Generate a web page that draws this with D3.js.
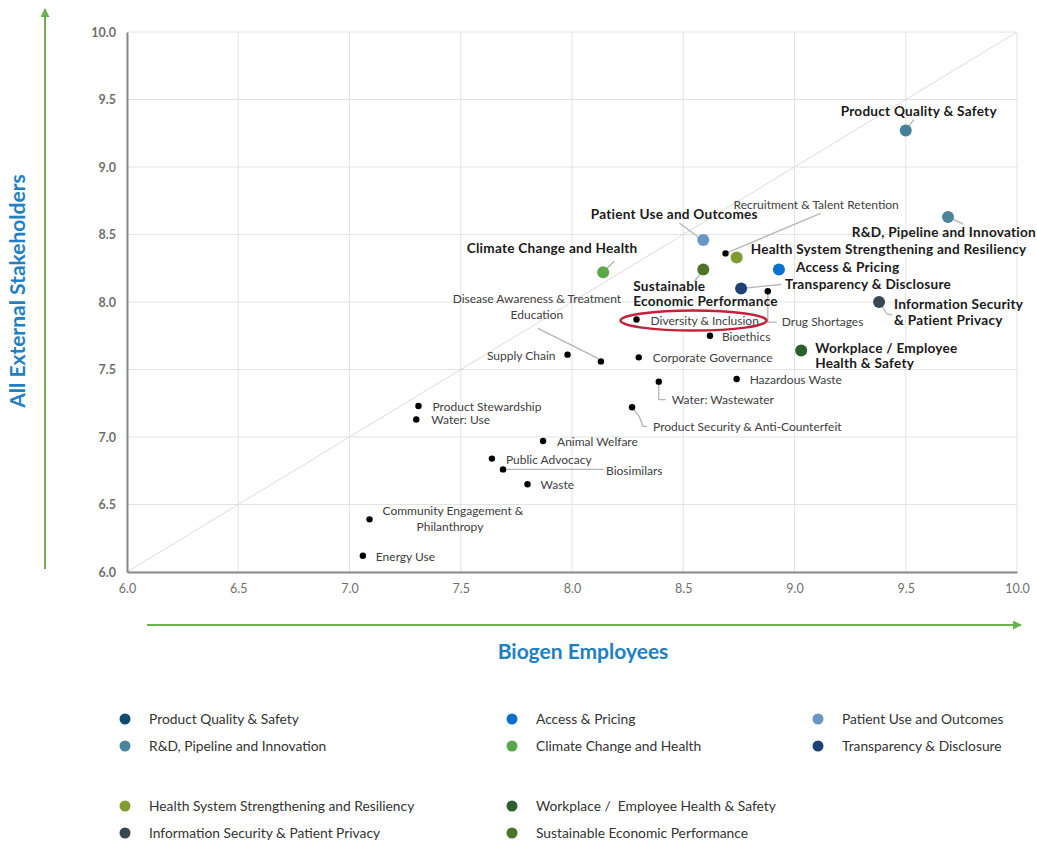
<!DOCTYPE html>
<html>
<head>
<meta charset="utf-8">
<script src="https://cdn.jsdelivr.net/npm/d3@7"></script>
<style>
  body { margin: 0; background: #fff; }
  svg { display: block; font-family: Lato, "Open Sans", sans-serif; }
</style>
</head>
<body>
<div id="chart"></div>
<script>
// Priority topics (big coloured dots)
const topicNames = [
  "Product Quality & Safety", "R&D, Pipeline and Innovation", "Patient Use and Outcomes",
  "Climate Change and Health", "Sustainable Economic Performance", "Health System Strengthening and Resiliency",
  "Access & Pricing", "Transparency & Disclosure", "Information Security & Patient Privacy",
  "Workplace / Employee Health & Safety"
];
const topicEmployees =    [9.50, 9.69, 8.59, 8.14, 8.59, 8.74, 8.93, 8.76, 9.38, 9.03];
const topicStakeholders = [9.27, 8.63, 8.46, 8.22, 8.24, 8.33, 8.24, 8.10, 8.00, 7.64];
const topicColors = ["#44809a", "#4a859c", "#6b95c2", "#5ba84a", "#4f7328", "#7f9c2e",
  "#0a70cc", "#1d4175", "#3a4650", "#2b5f2f"];

// Other topics (small black dots)
const otherNames = [
  "Recruitment & Talent Retention", "Drug Shortages", "Diversity & Inclusion", "Bioethics",
  "Supply Chain", "Disease Awareness & Treatment Education", "Corporate Governance",
  "Hazardous Waste", "Water: Wastewater", "Product Security & Anti-Counterfeit",
  "Product Stewardship", "Water: Use", "Animal Welfare", "Public Advocacy", "Biosimilars",
  "Waste", "Community Engagement & Philanthropy", "Energy Use"
];
const otherEmployees =    [8.69, 8.88, 8.29, 8.62, 7.98, 8.13, 8.30, 8.74, 8.39, 8.27,
  7.31, 7.30, 7.87, 7.64, 7.69, 7.80, 7.09, 7.06];
const otherStakeholders = [8.36, 8.08, 7.87, 7.75, 7.61, 7.56, 7.59, 7.43, 7.41, 7.22,
  7.23, 7.13, 6.97, 6.84, 6.76, 6.65, 6.39, 6.12];

// Legend
const legendNames = [
  "Product Quality & Safety", "R&D, Pipeline and Innovation", "Access & Pricing",
  "Climate Change and Health", "Patient Use and Outcomes", "Transparency & Disclosure",
  "Health System Strengthening and Resiliency", "Information Security & Patient Privacy",
  "Workplace /  Employee Health & Safety", "Sustainable Economic Performance"
];
const legendColors = ["#0f4d6f", "#4a859c", "#0a70cc", "#5ba84a", "#6b95c2", "#1d4175",
  "#7f9c2e", "#3a4650", "#2b5f2f", "#4f7328"];

const tickValues = [6.0, 6.5, 7.0, 7.5, 8.0, 8.5, 9.0, 9.5, 10.0];

// label layout: text lines, offset from dot, anchor, optional leader polyline (offsets)
const labelLayout = {
  "Product Quality & Safety": {lines: ["Product Quality & Safety"], dx: 13, dy: -15, anchor: "middle", leader: [[0,0],[8,-11]]},
  "R&D, Pipeline and Innovation": {lines: ["R&D, Pipeline and Innovation"], dx: 88, dy: 20, anchor: "end", leader: [[0,0],[15,7]]},
  "Patient Use and Outcomes": {lines: ["Patient Use and Outcomes"], dx: -29, dy: -21, anchor: "middle", leader: [[-5,-3],[-24,-17]]},
  "Climate Change and Health": {lines: ["Climate Change and Health"], dx: -51, dy: -19, anchor: "middle", leader: [[0,0],[11,-11]]},
  "Sustainable Economic Performance": {lines: ["Sustainable", "Economic Performance"], dx: -70, dy: 21, anchor: "start", leader: [[0,0],[-9,12]]},
  "Health System Strengthening and Resiliency": {lines: ["Health System Strengthening and Resiliency"], dx: 14, dy: -3, anchor: "start"},
  "Access & Pricing": {lines: ["Access & Pricing"], dx: 17, dy: 2, anchor: "start"},
  "Transparency & Disclosure": {lines: ["Transparency & Disclosure"], dx: 44, dy: 0, anchor: "start", leader: [[0,0],[40,-4]]},
  "Information Security & Patient Privacy": {lines: ["Information Security", "& Patient Privacy"], dx: 15, dy: 7, anchor: "start", leader: [[0,0],[8,12],[13,13]]},
  "Workplace / Employee Health & Safety": {lines: ["Workplace / Employee", "Health & Safety"], dx: 14, dy: 2, anchor: "start"},
  "Recruitment & Talent Retention": {lines: ["Recruitment & Talent Retention"], dx: 8, dy: -44, anchor: "start", leader: [[0,0],[95,-40]]},
  "Drug Shortages": {lines: ["Drug Shortages"], dx: 14, dy: 35, anchor: "start", leader: [[0,0],[0,31],[9,31]]},
  "Diversity & Inclusion": {lines: ["Diversity & Inclusion"], dx: 14, dy: 5, anchor: "start"},
  "Bioethics": {lines: ["Bioethics"], dx: 12, dy: 5, anchor: "start"},
  "Supply Chain": {lines: ["Supply Chain"], dx: -12, dy: 5, anchor: "end"},
  "Disease Awareness & Treatment Education": {lines: ["Disease Awareness & Treatment", "Education"], dx: -64, dy: -58, anchor: "middle", leader: [[-63,-33],[-3,-3]]},
  "Corporate Governance": {lines: ["Corporate Governance"], dx: 14, dy: 5, anchor: "start"},
  "Hazardous Waste": {lines: ["Hazardous Waste"], dx: 13, dy: 5, anchor: "start"},
  "Water: Wastewater": {lines: ["Water: Wastewater"], dx: 13, dy: 22, anchor: "start", leader: [[0,0],[0,18],[7,18]]},
  "Product Security & Anti-Counterfeit": {lines: ["Product Security & Anti-Counterfeit"], dx: 21, dy: 24, anchor: "start", leader: [[0,0],[7,9],[11,19],[15,19]]},
  "Product Stewardship": {lines: ["Product Stewardship"], dx: 14, dy: 5, anchor: "start"},
  "Water: Use": {lines: ["Water: Use"], dx: 15, dy: 5, anchor: "start"},
  "Animal Welfare": {lines: ["Animal Welfare"], dx: 14, dy: 5, anchor: "start"},
  "Public Advocacy": {lines: ["Public Advocacy"], dx: 14, dy: 5, anchor: "start"},
  "Biosimilars": {lines: ["Biosimilars"], dx: 103, dy: 6, anchor: "start", leader: [[0,0],[101,0]]},
  "Waste": {lines: ["Waste"], dx: 13, dy: 5, anchor: "start"},
  "Community Engagement & Philanthropy": {lines: ["Community Engagement &", "Philanthropy"], dx: 13, dy: -4, anchor: "start", lineDx: [0, 34]},
  "Energy Use": {lines: ["Energy Use"], dx: 13, dy: 5, anchor: "start"}
};

const width = 1037, height = 842;
const margin = {top: 32, right: 20, bottom: 270, left: 127};

const svg = d3.select("#chart").append("svg")
  .attr("width", width).attr("height", height);

const x = d3.scaleLinear().domain([6, 10]).range([margin.left, width - margin.right]);
const y = d3.scaleLinear().domain([6, 10]).range([height - margin.bottom, margin.top]);

// grid
const grid = svg.append("g");
grid.selectAll(".vg").data(tickValues).join("line")
  .attr("x1", d => x(d)).attr("x2", d => x(d))
  .attr("y1", y(10)).attr("y2", y(6))
  .attr("stroke", "#e3e3e3").attr("stroke-width", 1);
grid.selectAll(".hg").data(tickValues).join("line")
  .attr("x1", x(6)).attr("x2", x(10))
  .attr("y1", d => y(d)).attr("y2", d => y(d))
  .attr("stroke", "#e3e3e3").attr("stroke-width", 1);

// diagonal reference line
svg.append("line")
  .attr("x1", x(6)).attr("y1", y(6)).attr("x2", x(10)).attr("y2", y(10))
  .attr("stroke", "#dcdcdc").attr("stroke-width", 1);

// axes
const xAxis = svg.append("g")
  .attr("transform", `translate(0,${y(6)})`)
  .call(d3.axisBottom(x).tickValues(tickValues).tickFormat(d3.format(".1f")).tickSize(0).tickPadding(12));
xAxis.select(".domain").attr("stroke", "#8a8a8a").attr("stroke-width", 2);
xAxis.selectAll("text").attr("fill", "#6f6f6f").attr("font-size", 12.5)
  .attr("font-family", "'Liberation Sans Narrow', Lato, sans-serif");

const yAxis = svg.append("g")
  .attr("transform", `translate(${x(6)},0)`)
  .call(d3.axisLeft(y).tickValues(tickValues).tickFormat(d3.format(".1f")).tickSize(0).tickPadding(11));
yAxis.select(".domain").attr("stroke", "#8a8a8a").attr("stroke-width", 2);
yAxis.selectAll("text").attr("fill", "#6f6f6f").attr("font-size", 12.5).attr("font-weight", "bold")
  .attr("font-family", "Lato, sans-serif");

// green arrows
const arrowGreen = "#6ab24f";
svg.append("defs").append("marker")
  .attr("id", "arrow").attr("viewBox", "0 0 10 10").attr("refX", 9).attr("refY", 5)
  .attr("markerWidth", 4.5).attr("markerHeight", 4.5).attr("orient", "auto")
  .append("path").attr("d", "M0,0 L10,5 L0,10 z").attr("fill", arrowGreen);

svg.append("line").attr("x1", 45).attr("y1", y(6) - 3).attr("x2", 45).attr("y2", 9)
  .attr("stroke", arrowGreen).attr("stroke-width", 2).attr("marker-end", "url(#arrow)");
svg.append("line").attr("x1", 147).attr("y1", 625).attr("x2", 1021).attr("y2", 625)
  .attr("stroke", arrowGreen).attr("stroke-width", 2).attr("marker-end", "url(#arrow)");

// axis titles
svg.append("text").attr("x", 583).attr("y", 659).attr("text-anchor", "middle")
  .attr("fill", "#2180c3").attr("font-weight", "bold").attr("font-size", 21)
  .text("Biogen Employees");
svg.append("text").attr("transform", "translate(25,291) rotate(-90)").attr("text-anchor", "middle")
  .attr("fill", "#2180c3").attr("font-weight", "bold").attr("font-size", 21)
  .text("All External Stakeholders");

// data rows
const topics = topicNames.map((n, i) => ({name: n, ex: topicEmployees[i], ey: topicStakeholders[i], color: topicColors[i], big: true}));
const others = otherNames.map((n, i) => ({name: n, ex: otherEmployees[i], ey: otherStakeholders[i], color: "#000", big: false}));
const all = others.concat(topics);

// leaders
const line = d3.line();
svg.append("g").selectAll("path")
  .data(all.filter(d => labelLayout[d.name] && labelLayout[d.name].leader))
  .join("path")
  .attr("d", d => line(labelLayout[d.name].leader.map(p => [x(d.ex) + p[0], y(d.ey) + p[1]])))
  .attr("fill", "none").attr("stroke", "#b5b5b5").attr("stroke-width", 1.3);

// diversity highlight
const div = others.find(d => d.name === "Diversity & Inclusion");
svg.append("ellipse")
  .attr("cx", x(div.ex) + 57).attr("cy", y(div.ey) + 1)
  .attr("rx", 73).attr("ry", 10)
  .attr("fill", "none").attr("stroke", "#c4213b").attr("stroke-width", 2.5);

// dots
svg.append("g").selectAll("circle").data(all).join("circle")
  .attr("cx", d => x(d.ex)).attr("cy", d => y(d.ey))
  .attr("r", d => d.big ? 6 : 3.2)
  .attr("fill", d => d.color);

// labels
const labels = svg.append("g").selectAll("text").data(all).join("text")
  .attr("x", d => x(d.ex) + labelLayout[d.name].dx)
  .attr("y", d => y(d.ey) + labelLayout[d.name].dy)
  .attr("text-anchor", d => labelLayout[d.name].anchor)
  .attr("font-size", d => d.big ? 13.6 : 12)
  .attr("letter-spacing", d => d.big ? 0.25 : 0)
  .attr("font-weight", d => d.big ? "bold" : "normal")
  .attr("fill", d => d.big ? "#1a1a1a" : "#404040");
labels.each(function(d) {
  const L = labelLayout[d.name];
  const el = d3.select(this);
  L.lines.forEach((t, k) => {
    el.append("tspan")
      .attr("x", x(d.ex) + L.dx + (L.lineDx ? L.lineDx[k] : 0))
      .attr("dy", k === 0 ? 0 : 15.5)
      .text(t);
  });
});

// legend
const legendCols = [125, 512, 818];
const legendRows = [719, 746, 806, 833];
const legend = svg.append("g").selectAll("g").data(legendNames).join("g")
  .attr("transform", (d, i) => {
    const grp = i < 6 ? 0 : 1;
    const j = i - grp * 6;
    return `translate(${legendCols[Math.floor(j / 2)]},${legendRows[grp * 2 + j % 2]})`;
  });
legend.append("circle").attr("r", 5.5).attr("fill", (d, i) => legendColors[i]);
legend.append("text").attr("x", 24).attr("y", 5)
  .attr("font-size", 13.8).attr("fill", "#333").style("white-space", "pre")
  .text(d => d);
</script>
</body>
</html>
